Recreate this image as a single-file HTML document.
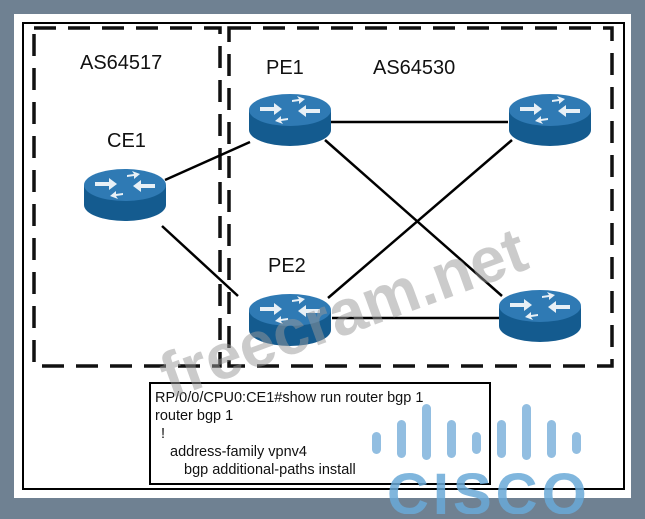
<!DOCTYPE html>
<html><head><style>
body{margin:0;width:645px;height:514px;background:#6f8192;overflow:hidden;font-family:"Liberation Sans",sans-serif}
</style></head><body>
<svg width="645" height="514" xmlns="http://www.w3.org/2000/svg">
<defs>
<g id="r">
<path d="M-41,0 v20 a41,16 0 0 0 82,0 v-20z" fill="#145b8f"/>
<ellipse cx="0" cy="0" rx="41" ry="16" fill="#2f7ab4"/>
<g fill="#e8f0f6">
<path d="M-30,-3 l14,0 0,-4 8,6 -8,6 0,-4 -14,0z"/>
<path d="M30,3 l-14,0 0,4 -8,-6 8,-6 0,4 14,0z"/>
<path d="M2,-10 l7,-1 -2,-3 8,3 -6,5 0,-3 -7,1z"/>
<path d="M-2,10 l-7,1 2,3 -8,-3 6,-5 0,3 7,-1z"/>
</g>
</g>
</defs>
<rect x="14" y="14" width="617" height="484" fill="#fff"/>
<rect x="23" y="23" width="601" height="466" fill="none" stroke="#000" stroke-width="2"/>
<g fill="none" stroke="#111" stroke-width="3.5" stroke-dasharray="22,12">
<rect x="34" y="28" width="186" height="338"/>
<rect x="229" y="28" width="383" height="338"/>
</g>
<rect x="150" y="383" width="340" height="101" fill="#fff" stroke="#000" stroke-width="2"/>
<g stroke="#000" stroke-width="2.5">
<line x1="165" y1="180" x2="250" y2="142"/>
<line x1="162" y1="226" x2="238" y2="296"/>
<line x1="330" y1="122" x2="508" y2="122"/>
<line x1="325" y1="140" x2="502" y2="296"/>
<line x1="328" y1="298" x2="512" y2="140"/>
<line x1="332" y1="318" x2="500" y2="318"/>
</g>
<use href="#r" x="125" y="185"/>
<use href="#r" x="290" y="110"/>
<use href="#r" x="550" y="110"/>
<use href="#r" x="290" y="310"/>
<use href="#r" x="540" y="306"/>
<g font-size="20" fill="#111">
<text x="80" y="69">AS64517</text>
<text x="266" y="74">PE1</text>
<text x="373" y="74">AS64530</text>
<text x="107" y="147">CE1</text>
<text x="268" y="272">PE2</text>
</g>
<g font-size="14.5" fill="#111">
<text x="155" y="402">RP/0/0/CPU0:CE1#show run router bgp 1</text>
<text x="155" y="420">router bgp 1</text>
<text x="161" y="438">!</text>
<text x="170" y="456">address-family vpnv4</text>
<text x="184" y="474">bgp additional-paths install</text>
</g>
<text x="135" y="340" font-size="64" font-weight="bold" fill="#999" opacity="0.5" transform="rotate(-20 320 270)">freecram.net</text>
<g fill="#7fb3dc" opacity="0.85">
<rect x="372" y="432" width="9" height="22" rx="4.5"/>
<rect x="397" y="420" width="9" height="38" rx="4.5"/>
<rect x="422" y="404" width="9" height="56" rx="4.5"/>
<rect x="447" y="420" width="9" height="38" rx="4.5"/>
<rect x="472" y="432" width="9" height="22" rx="4.5"/>
<rect x="497" y="420" width="9" height="38" rx="4.5"/>
<rect x="522" y="404" width="9" height="56" rx="4.5"/>
<rect x="547" y="420" width="9" height="38" rx="4.5"/>
<rect x="572" y="432" width="9" height="22" rx="4.5"/>
<text x="387" y="514" font-size="58" font-weight="bold" fill="#6aaad8" letter-spacing="4">CISCO</text>
</g>
</svg>
</body></html>
